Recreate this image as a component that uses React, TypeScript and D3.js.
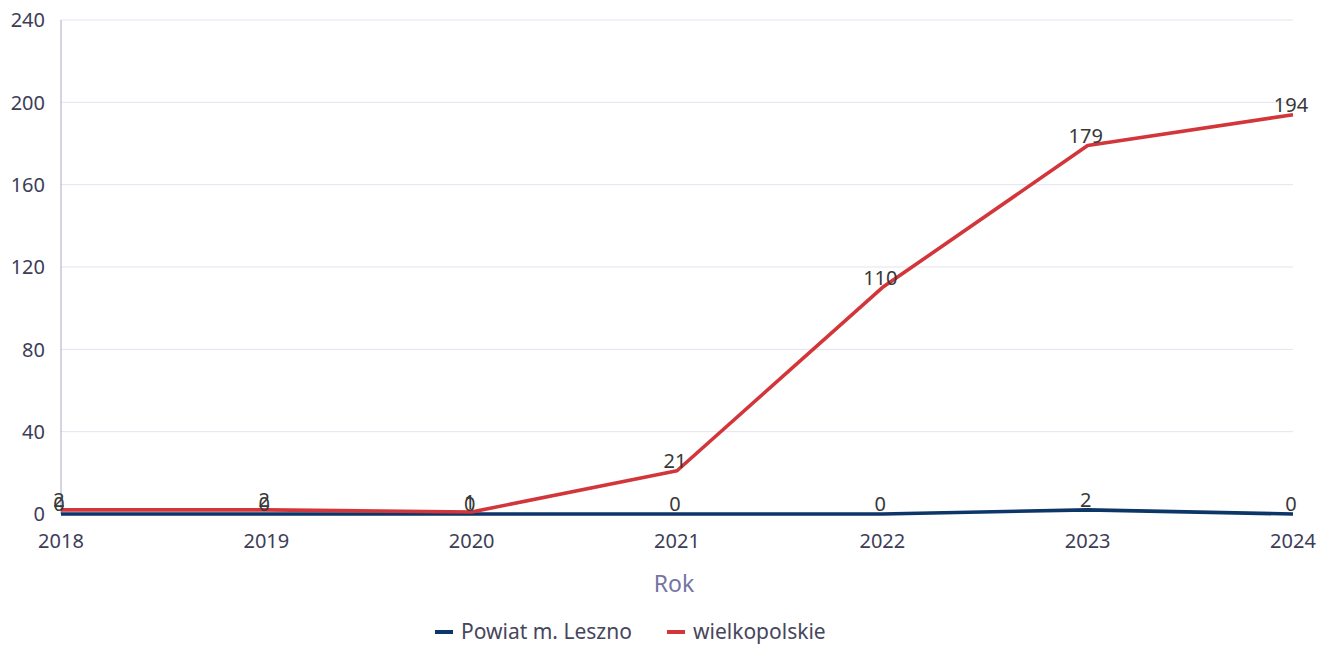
import React from "react";
import * as d3 from "d3";

const years = ["2018", "2019", "2020", "2021", "2022", "2023", "2024"];
const leszno = [0, 0, 0, 0, 0, 2, 0];
const wielkopolskie = [2, 2, 1, 21, 110, 179, 194];
const yTicks = [0, 40, 80, 120, 160, 200, 240];
const seriesNames = ["Powiat m. Leszno", "wielkopolskie"];
const seriesColors = ["#0c3568", "#d3363a"];

const W = 1327;
const H = 647;
const FONT = "'Noto Sans', 'Open Sans', sans-serif";

export default function App() {
  const x = d3.scalePoint<string>().domain(years).range([61, 1293]);
  const y = d3.scaleLinear().domain([0, 240]).range([514, 20]);
  const line = d3
    .line<number>()
    .x((_, i) => x(years[i]) as number)
    .y((d) => y(d))
    .curve(d3.curveLinear);
  const series = [leszno, wielkopolskie];

  return (
    <svg width={W} height={H} style={{ position: "absolute", left: 0, top: 0, background: "#fff" }} fontFamily={FONT}>
      {yTicks.map((t) => (
        <g key={t}>
          {t > 0 && <line x1={61} x2={1293} y1={y(t)} y2={y(t)} stroke="#e3e3ef" strokeWidth={1} />}
          <text x={45} y={y(t)} dy="0.36em" textAnchor="end" fontSize={20} fill="#3d3d57">
            {t}
          </text>
        </g>
      ))}
      <line x1={61} x2={61} y1={20} y2={514} stroke="#a9a9c9" strokeWidth={1} />
      {years.map((yr) => (
        <text key={yr} x={x(yr)} y={548} textAnchor="middle" fontSize={20} fill="#3d3d57">
          {yr}
        </text>
      ))}
      <text x={674} y={592} textAnchor="middle" fontSize={23} fill="#7474a4">
        Rok
      </text>
      {series.map((s, k) => (
        <path key={k} d={line(s) || ""} fill="none" stroke={seriesColors[k]} strokeWidth={3.6} strokeLinejoin="round" />
      ))}
      {series.map((s, k) =>
        s.map((v, i) => (
          <text key={k + "-" + i} x={(x(years[i]) as number) - 2} y={y(v) - 3} textAnchor="middle" fontSize={20} fill="#383838">
            {v}
          </text>
        ))
      )}
      {seriesNames.map((n, k) => {
        const lx = k === 0 ? 435 : 667;
        return (
          <g key={n}>
            <line x1={lx} x2={lx + 18} y1={632} y2={632} stroke={seriesColors[k]} strokeWidth={4} />
            <text x={lx + 26} y={632} dy="0.35em" fontSize={21} fill="#46465c">
              {n}
            </text>
          </g>
        );
      })}
    </svg>
  );
}
